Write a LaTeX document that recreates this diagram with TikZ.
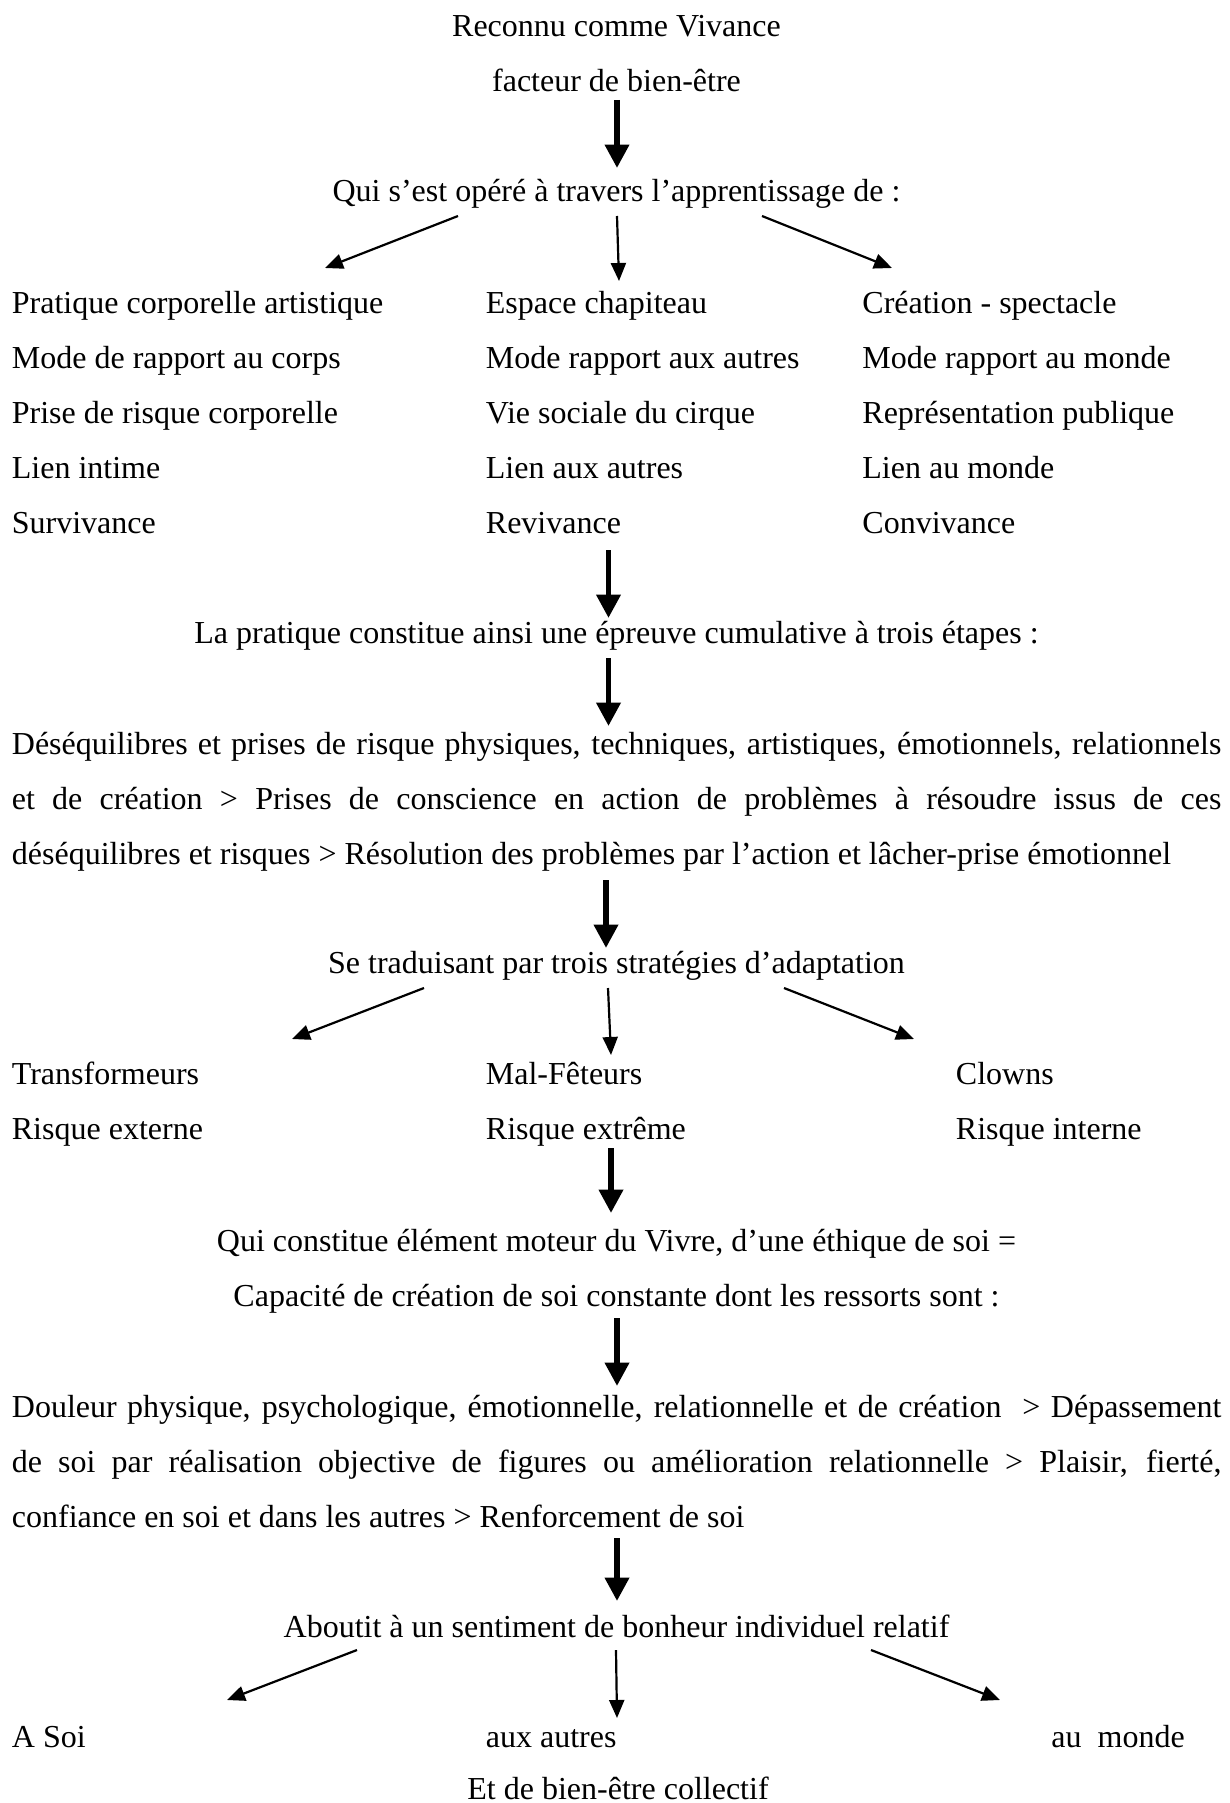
\documentclass[tikz,border=0pt]{standalone}
\usepackage{fontspec}
\setmainfont{Liberation Serif}
\usetikzlibrary{arrows.meta}
\begin{document}
\begin{tikzpicture}[x=0.5pt,y=-0.5pt,
  txt/.style={inner sep=0pt, font=\fontsize{16}{27.6}\selectfont},
  ctr/.style={txt, anchor=base},
  lft/.style={txt, anchor=base west},
  para/.style={txt, anchor=base west, text width=604.75pt, align=justify},
  bigarrow/.style={line width=2.8pt, -{Triangle[width=11.7pt,length=11.7pt]}},
  smallarrow/.style={line width=1.1pt, -{Triangle[width=7.5pt,length=9pt]}}]
\fill[white] (0,0) rectangle (1230,1803);
\useasboundingbox (0,0) rectangle (1230,1803);

% top
\node[ctr] (t1) at (616.5,36.5) {Reconnu comme Vivance};
\node[ctr] (t2) at (616.5,92) {facteur de bien-être};
\node[ctr] (t3) at (616.5,201.5) {Qui s’est opéré à travers l’apprentissage de :};

% three columns
\node[lft] (c1r1) at (11.5,313) {Pratique corporelle artistique};
\node[lft] (c1r2) at (11.5,368) {Mode de rapport au corps};
\node[lft] (c1r3) at (11.5,423) {Prise de risque corporelle};
\node[lft] (c1r4) at (11.5,478) {Lien intime};
\node[lft] (c1r5) at (11.5,533) {Survivance};
\node[lft] (c2r1) at (485.5,313) {Espace chapiteau};
\node[lft] (c2r2) at (485.5,368) {Mode rapport aux autres};
\node[lft] (c2r3) at (485.5,423) {Vie sociale du cirque};
\node[lft] (c2r4) at (485.5,478) {Lien aux autres};
\node[lft] (c2r5) at (485.5,533) {Revivance};
\node[lft] (c3r1) at (862,313) {Création - spectacle};
\node[lft] (c3r2) at (862,368) {Mode rapport au monde};
\node[lft] (c3r3) at (862,423) {Représentation publique};
\node[lft] (c3r4) at (862,478) {Lien au monde};
\node[lft] (c3r5) at (862,533) {Convivance};

\node[ctr] (t4) at (616.5,643.5) {La pratique constitue ainsi une épreuve cumulative à trois étapes :};

\node[para] (p1) at (11.5,754) {\hyphenpenalty=10000\exhyphenpenalty=10000\tolerance=10000
Déséquilibres et prises de risque physiques, techniques, artistiques, émotionnels, relationnels\linebreak
et de création > Prises de conscience en action de problèmes à résoudre issus de ces\linebreak
déséquilibres et risques > Résolution des problèmes par l’action et lâcher-prise émotionnel};

\node[ctr] (t5) at (616.5,973.5) {Se traduisant par trois stratégies d’adaptation};

\node[lft] (s1a) at (11.5,1084) {Transformeurs};
\node[lft] (s1b) at (11.5,1139) {Risque externe};
\node[lft] (s2a) at (485.5,1084) {Mal-Fêteurs};
\node[lft] (s2b) at (485.5,1139) {Risque extrême};
\node[lft] (s3a) at (955.5,1084) {Clowns};
\node[lft] (s3b) at (955.5,1139) {Risque interne};

\node[ctr] (t6) at (616.5,1251.5) {Qui constitue élément moteur du Vivre, d’une éthique de soi =};
\node[ctr] (t7) at (616.5,1306) {Capacité de création de soi constante dont les ressorts sont :};

\node[para] (p2) at (11.5,1417) {\hyphenpenalty=10000\exhyphenpenalty=10000\tolerance=10000
Douleur physique, psychologique, émotionnelle, relationnelle et de création~ > Dépassement\linebreak
de soi par réalisation objective de figures ou amélioration relationnelle > Plaisir, fierté,\linebreak
confiance en soi et dans les autres > Renforcement de soi};

\node[ctr] (t8) at (616.5,1637) {Aboutit à un sentiment de bonheur individuel relatif};

\node[lft] (e1) at (11.5,1747.5) {A Soi};
\node[lft] (e2) at (485.5,1747.5) {aux autres};
\node[lft] (e3) at (1051,1747.5) {au\ \ monde};

\node[ctr] (t9) at (618,1799) {Et de bien-être collectif};

% arrow end points
\coordinate (A1s) at (617,100);   \coordinate (A1e) at (617,168);
\coordinate (A2s) at (608.5,550); \coordinate (A2e) at (608.5,618);
\coordinate (A3s) at (608.5,658); \coordinate (A3e) at (608.5,726);
\coordinate (A4s) at (606,880);   \coordinate (A4e) at (606,948);
\coordinate (A5s) at (611,1148);  \coordinate (A5e) at (611,1213);
\coordinate (A6s) at (617,1318);  \coordinate (A6e) at (617,1386);
\coordinate (A7s) at (617,1538);  \coordinate (A7e) at (617,1601);

\draw[bigarrow] (A1s) -- (A1e);
\draw[bigarrow] (A2s) -- (A2e);
\draw[bigarrow] (A3s) -- (A3e);
\draw[bigarrow] (A4s) -- (A4e);
\draw[bigarrow] (A5s) -- (A5e);
\draw[bigarrow] (A6s) -- (A6e);
\draw[bigarrow] (A7s) -- (A7e);

% fan 1
\coordinate (F1l) at (458,216); \coordinate (F1le) at (325,268);
\coordinate (F1m) at (617,216); \coordinate (F1me) at (619,281);
\coordinate (F1r) at (762,216); \coordinate (F1re) at (892,268);
\draw[smallarrow] (F1l) -- (F1le);
\draw[smallarrow] (F1m) -- (F1me);
\draw[smallarrow] (F1r) -- (F1re);

% fan 2
\coordinate (F2l) at (424,988); \coordinate (F2le) at (292,1039);
\coordinate (F2m) at (608,988); \coordinate (F2me) at (611,1055);
\coordinate (F2r) at (784,988); \coordinate (F2re) at (914,1039);
\draw[smallarrow] (F2l) -- (F2le);
\draw[smallarrow] (F2m) -- (F2me);
\draw[smallarrow] (F2r) -- (F2re);

% fan 3
\coordinate (F3l) at (357,1650); \coordinate (F3le) at (227,1700);
\coordinate (F3m) at (616,1650); \coordinate (F3me) at (617,1718);
\coordinate (F3r) at (871,1650); \coordinate (F3re) at (1000,1700);
\draw[smallarrow] (F3l) -- (F3le);
\draw[smallarrow] (F3m) -- (F3me);
\draw[smallarrow] (F3r) -- (F3re);
\end{tikzpicture}
\end{document}
